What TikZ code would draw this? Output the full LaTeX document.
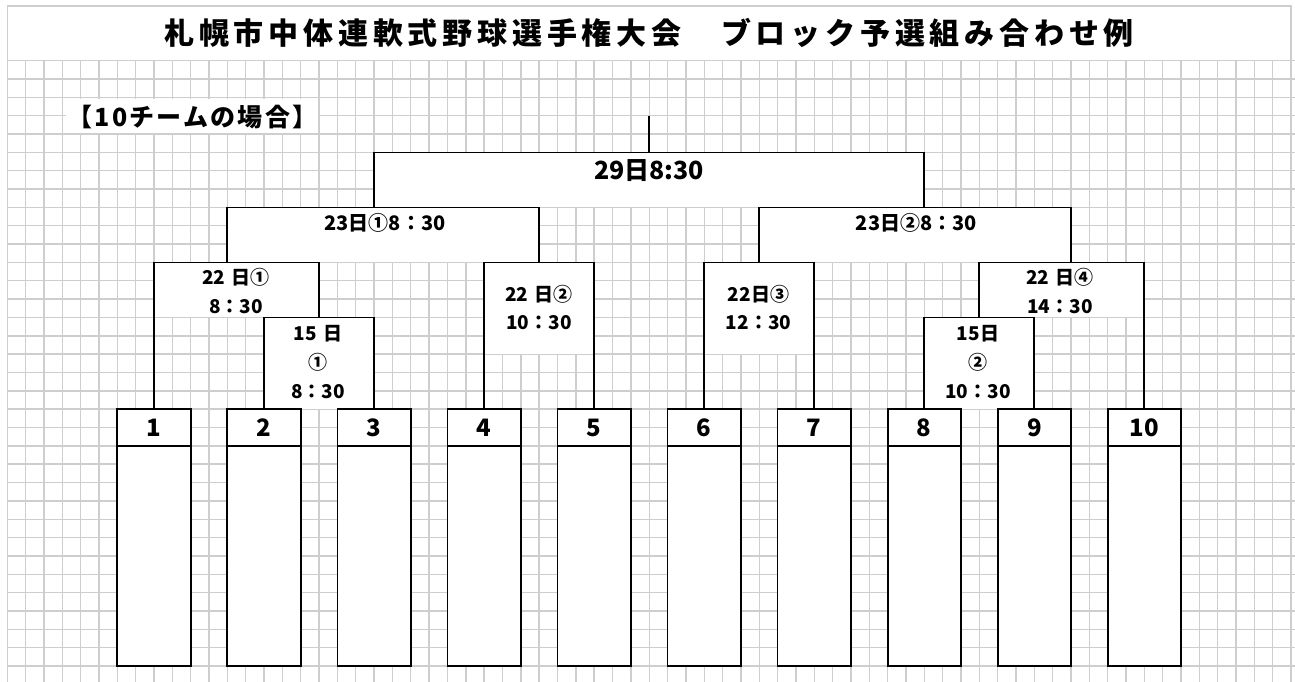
\documentclass[tikz,border=0pt]{standalone}
\usepackage{fontspec}
\newfontfamily\jp{Noto Sans CJK JP}
\newfontfamily\jptitle{Noto Sans CJK JP}[LetterSpace=16]
\newfontfamily\jphead{Noto Sans CJK JP}[LetterSpace=9]
\newcommand{\jpsz}[2]{\fontsize{#1}{#2}\selectfont}
\definecolor{gridgray}{RGB}{206,206,206}
\begin{document}
\begin{tikzpicture}[x=18.34pt,y=-18.34pt,
  gridline/.style={draw=gridgray,line width=1.4pt},
  bline/.style={draw=black,line width=1.8pt},
  wbox/.style={fill=white,draw=none,inner sep=0pt,outer sep=0pt,anchor=north west},
  teamhead/.style={bline,fill=white,inner sep=0pt,outer sep=0pt,anchor=north west,
    minimum width=73.36pt,minimum height=36.68pt,font=\jp\bfseries\jpsz{24}{24}},
  teambody/.style={bline,fill=white,inner sep=0pt,outer sep=0pt,anchor=north west,
    minimum width=73.36pt,minimum height=220.08pt},
  lbl/.style={inner sep=0pt,align=center,font=\jp\bfseries\jpsz{19}{28.8}},
  lblbig/.style={inner sep=0pt,align=center,font=\jp\bfseries\jpsz{20}{20}}
]
\useasboundingbox (-0.398,-3.310) rectangle (70.213,33.823);
\clip (-0.398,-3.310) rectangle (70.213,33.823);
% grid
\foreach \k in {0,...,70} {\draw[gridline] (\k,0) -- (\k,34);}
\foreach \j in {0,...,33} {\draw[gridline] (0,\j) -- (70.3,\j);}
% title band
\draw[gridline,fill=white] (0,-2.98) rectangle (70,0);
\node[inner sep=0pt,font=\jptitle\bfseries\jpsz{30}{30}] (title) at (35.0,-1.51)
  {札幌市中体連軟式野球選手権大会　ブロック予選組み合わせ例};
% heading
\node[fill=white,inner sep=0pt,minimum width=252pt,minimum height=34pt] (headbg) at (10.07,3.01) {};
\node[inner sep=0pt,font=\jphead\bfseries\jpsz{25}{25}] (heading) at (10.1,3.07) {【10チームの場合】};
% white match areas
\node[wbox,minimum width=30*18.34pt,minimum height=3*18.34pt] (m29) at (20,5) {};
\node[wbox,minimum width=17*18.34pt,minimum height=3*18.34pt] (m23a) at (12,8) {};
\node[wbox,minimum width=17*18.34pt,minimum height=3*18.34pt] (m23b) at (41,8) {};
\node[wbox,minimum width=9*18.34pt,minimum height=3*18.34pt] (m22a) at (8,11) {};
\node[wbox,minimum width=6*18.34pt,minimum height=5*18.34pt] (m22b) at (26,11) {};
\node[wbox,minimum width=6*18.34pt,minimum height=5*18.34pt] (m22c) at (38,11) {};
\node[wbox,minimum width=9*18.34pt,minimum height=3*18.34pt] (m22d) at (53,11) {};
\node[wbox,minimum width=6*18.34pt,minimum height=5*18.34pt] (m15a) at (14,14) {};
\node[wbox,minimum width=6*18.34pt,minimum height=5*18.34pt] (m15b) at (50,14) {};
% team boxes
\foreach \i in {1,...,10} {
  \node[teambody] (b\i) at ({6*\i},21) {};
  \node[teamhead] (h\i) at ({6*\i},19) {\i};
}
% brackets
\coordinate (final) at (35,3);
\draw[bline] (final) -- (m29.north);
\draw[bline] (m29.south west) -- (m29.north west) -- (m29.north east) -- (m29.south east);
\draw[bline] (m23a.south west) -- (m23a.north west) -- (m23a.north east) -- (m22b.north);
\draw[bline] (m22c.north) -- (m23b.north west) -- (m23b.north east) -- (m23b.south east);
\draw[bline] (h1.north) -- (m22a.north west) -- (m22a.north east) -- (m15a.north);
\draw[bline] (h2.north) -- (m15a.north west) -- (m15a.north east) -- (h3.north);
\draw[bline] (h4.north) -- (m22b.north west) -- (m22b.north east) -- (h5.north);
\draw[bline] (h6.north) -- (m22c.north west) -- (m22c.north east) -- (h7.north);
\draw[bline] (m15b.north) -- (m22d.north west) -- (m22d.north east) -- (h10.north);
\draw[bline] (h8.north) -- (m15b.north west) -- (m15b.north east) -- (h9.north);
% labels
\node[inner sep=0pt,font=\jp\bfseries\jpsz{25}{25}] (l29) at (34.99,6.01) {29日8:30};
\node[lblbig] (l23a) at (20.59,8.85) {23日①8：30};
\node[lblbig] (l23b) at (49.57,8.85) {23日②8：30};
\node[lbl] (l22a) at (12.47,12.56) {22\,\,日①\\8：30};
\node[lbl] (l15a) at (16.94,16.43) {15\,\,日\\①\\8：30};
\node[lbl] (l22b) at (28.99,13.46) {22\,\,日②\\10：30};
\node[lbl] (l22c) at (40.96,13.46) {22日③\\12：30};
\node[lbl] (l22d) at (57.4,12.56) {22\,\,日④\\14：30};
\node[lbl] (l15b) at (52.93,16.43) {15日\\②\\10：30};
\end{tikzpicture}
\end{document}
